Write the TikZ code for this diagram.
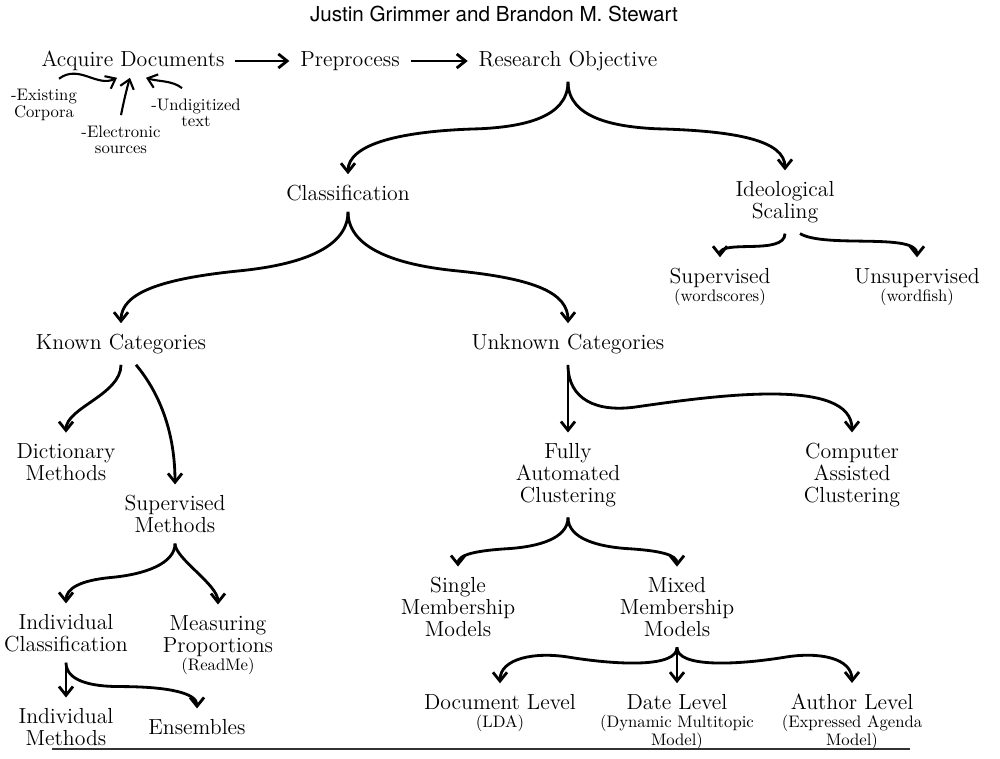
\documentclass[tikz,border=0pt]{standalone}
\usepackage{fontspec}
\usetikzlibrary{arrows.meta}
\newfontfamily\titlef{TeX Gyre Heros}
\newcommand\mainf{\fontsize{12.4}{12.4}\selectfont}
\newcommand\subf{\fontsize{9.5}{9.2}\selectfont}

\begin{document}
\begin{tikzpicture}[x=0.02cm, y=-0.02cm,
  >={Straight Barb[length=5pt,width=8pt]},
  every node/.style={inner sep=6pt, align=center, font=\mainf},
  small/.style={font=\subf},
  arr/.style={->, line width=1.6pt},
  sarr/.style={->, line width=1.2pt}]
\useasboundingbox (0,0) rectangle (1000,759);

\node (title) at (494,14) {\titlef\fontsize{11.75}{14}\selectfont Justin Grimmer and Brandon M. Stewart};

\node (acq) at (133,61) {Acquire Documents};
\node (prep) at (350,61) {Preprocess};
\node (obj) at (568,61) {Research Objective};
\node [small] (exist) at (44,105) {-Existing\\Corpora};
\node [small] (elec) at (121,140) {-Electronic\\sources};
\node [small] (undig) at (196,113) {-Undigitized\\text};

\node (cls) at (348,193) {Classification};
\node (ideo) at (785,202) {Ideological\\Scaling};
\node (sup) at (720,287) {Supervised\\[-2pt]{\subf (wordscores)}};
\node (unsup) at (917,287) {Unsupervised\\[-2pt]{\subf (wordfish)}};

\node (kc) at (121,344) {Known Categories};
\node (uc) at (568,344) {Unknown Categories};
\node (dict) at (66,462) {Dictionary\\Methods};
\node (supm) at (175,514) {Supervised\\Methods};
\node (fac) at (568,475) {Fully\\Automated\\Clustering};
\node (cac) at (852,475) {Computer\\Assisted\\Clustering};

\node (indc) at (66,633) {Individual\\Classification};
\node (meas) at (218,645) {Measuring\\Proportions\\[-2pt]{\subf (ReadMe)}};
\node (single) at (458,607) {Single\\Membership\\Models};
\node (mixed) at (677,607) {Mixed\\Membership\\Models};

\node (indm) at (66,727) {Individual\\Methods};
\node (ens) at (197,727) {Ensembles};
\node (doc) at (500,713) {Document Level\\[-2pt]{\subf (LDA)}};
\node (date) at (677,722) {Date Level\\[-2pt]{\subf (Dynamic Multitopic}\\[-2pt]{\subf Model)}};
\node (auth) at (852,722) {Author Level\\[-2pt]{\subf (Expressed Agenda}\\[-2pt]{\subf Model)}};

% top row
\draw [arr] (acq) -- (prep);
\draw [arr] (prep) -- (obj);
\draw [sarr] ([xshift=0.3cm]exist.north) .. controls +(20,-15) and +(-20,10) .. ([xshift=-0.32cm,yshift=0.08cm]acq.south);
\draw [sarr] (elec.north) .. controls +(3,-15) and +(-3,10) .. ([xshift=-0.06cm,yshift=0.08cm]acq.south);
\draw [sarr] ([xshift=-0.28cm]undig.north) .. controls +(-10,-8) and +(12,4) .. ([xshift=0.26cm,yshift=0.08cm]acq.south);

% braces
\draw [arr] (obj.south) .. controls +(0,37) and +(40,-2) .. ++(-88,47) .. controls +(-80,2) and +(0,-30) .. (cls.north);
\draw [arr] (obj.south) .. controls +(0,37) and +(-40,-2) .. ++(88,47) .. controls +(80,2) and +(0,-30) .. (ideo.north);
\draw [arr] (ideo.south) .. controls +(0,22) and +(0,-18) .. (sup.north);
\draw [arr] ([xshift=0.3cm]ideo.south) .. controls +(25,15) and +(0,-25) .. (unsup.north);
\draw [arr] (cls.south) .. controls +(0,40) and +(50,-5) .. ++(-108,59) .. controls +(-80,8) and +(0,-30) .. (kc.north);
\draw [arr] (cls.south) .. controls +(0,40) and +(-50,-5) .. ++(108,59) .. controls +(80,8) and +(0,-30) .. (uc.north);

\draw [arr] (kc.south) .. controls +(0,30) and +(0,-25) .. (dict.north);
\draw [arr] ([xshift=0.3cm]kc.south) .. controls +(25,30) and +(0,-50) .. (supm.north);
\draw [arr] (supm.south) .. controls +(0,20) and +(35,-3) .. ++(-65,34) .. controls +(-30,3) and +(0,-15) .. (indc.north);
\draw [arr] (supm.south) .. controls +(0,15) and +(0,-20) .. (meas.north);
\draw [arr] (indc.south) -- (indm.north);
\draw [arr] (indc.south) .. controls +(0,18) and +(-30,0) .. ++(54,24) .. controls +(50,0) and +(0,-15) .. (ens.north);

\draw [arr] (uc.south) -- (fac.north);
\draw [arr] (uc.south) .. controls +(0,35) and +(-40,6) .. ++(69,42) .. controls +(83,-12) and +(0,-55) .. (cac.north);
\draw [arr] (fac.south) .. controls +(0,22) and +(25,-2) .. ++(-57,31) .. controls +(-35,2) and +(0,-12) .. (single.north);
\draw [arr] (fac.south) .. controls +(0,22) and +(-25,-2) .. ++(57,31) .. controls +(35,2) and +(0,-12) .. (mixed.north);
\draw [arr] (mixed.south) .. controls +(0,20) and +(50,8) .. ++(-107,10) .. controls +(-35,-6) and +(0,-25) .. (doc.north);
\draw [arr] (mixed.south) -- (date.north);
\draw [arr] (mixed.south) .. controls +(0,20) and +(-50,8) .. ++(107,10) .. controls +(35,-6) and +(0,-25) .. (auth.north);

\draw [line width=0.6pt, black!80] (52,749) -- (910,749);
\end{tikzpicture}
\end{document}
